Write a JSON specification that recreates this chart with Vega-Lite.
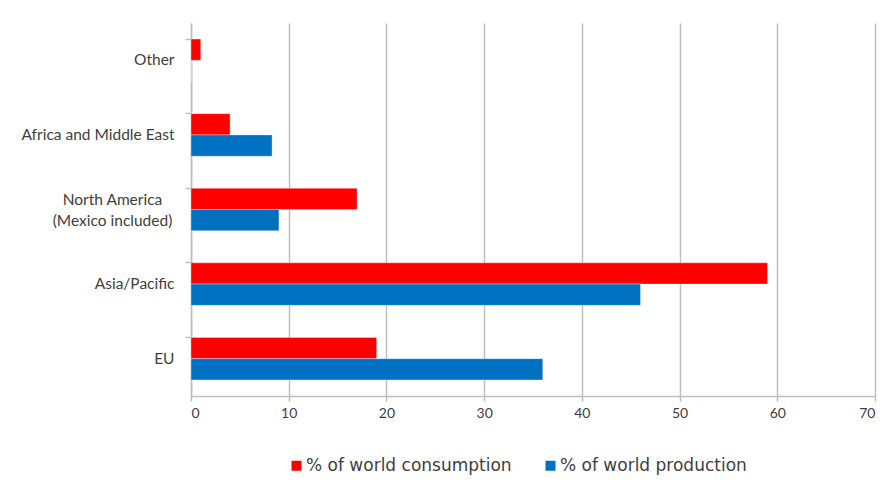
{
  "$schema": "https://vega.github.io/schema/vega-lite/v6.json",
  "width": 684,
  "height": 373,
  "autosize": {"type": "none"},
  "padding": {"left": 191, "top": 23, "right": 13, "bottom": 87},
  "background": "white",
  "config": {
    "view": {"stroke": null},
    "font": "Lato",
    "axis": {"labelFont": "Lato", "labelColor": "#404040", "domainColor": "#BFBFBF", "tickColor": "#BFBFBF", "gridColor": "#BFBFBF"},
    "legend": {"labelFont": "DejaVu Sans"}
  },
  "data": {
    "values": [
      {"region": "Other", "series": "% of world consumption", "value": 1},
      {"region": "Other", "series": "% of world production", "value": 0},
      {"region": "Africa and Middle East", "series": "% of world consumption", "value": 4},
      {"region": "Africa and Middle East", "series": "% of world production", "value": 8.3},
      {"region": "North America|(Mexico included)", "series": "% of world consumption", "value": 17},
      {"region": "North America|(Mexico included)", "series": "% of world production", "value": 9},
      {"region": "Asia/Pacific", "series": "% of world consumption", "value": 59},
      {"region": "Asia/Pacific", "series": "% of world production", "value": 46},
      {"region": "EU", "series": "% of world consumption", "value": 19},
      {"region": "EU", "series": "% of world production", "value": 36}
    ]
  },
  "mark": {"type": "bar", "stroke": "white", "strokeOpacity": 0.35, "strokeWidth": 1},
  "encoding": {
    "y": {
      "field": "region",
      "type": "nominal",
      "sort": ["Other", "Africa and Middle East", "North America|(Mexico included)", "Asia/Pacific", "EU"],
      "scale": {"paddingInner": 0.43, "paddingOuter": 0.215},
      "axis": {
        "title": null,
        "labelExpr": "split(datum.label, '|')",
        "labelFontSize": 15.5,
        "labelLineHeight": 21,
        "labelLimit": 0,
        "labelPadding": {"condition": {"test": "indexof(datum.value, '|') >= 0", "value": 73}, "value": 11},
        "labelAlign": {"condition": {"test": "indexof(datum.value, '|') >= 0", "value": "center"}, "value": "right"},
        "labelOffset": {"condition": {"test": "indexof(datum.value, '|') >= 0", "value": -10}, "value": 0},
        "tickSize": 6,
        "bandPosition": 0,
        "domainWidth": 1.5,
        "tickWidth": 1.5,
        "grid": false
      }
    },
    "yOffset": {
      "field": "series",
      "type": "nominal",
      "sort": ["% of world consumption", "% of world production"]
    },
    "x": {
      "field": "value",
      "type": "quantitative",
      "scale": {"domain": [0, 70]},
      "axis": {
        "title": null,
        "values": [0, 10, 20, 30, 40, 50, 60, 70],
        "labelFontSize": 14,
        "labelPadding": 5,
        "tickSize": 5,
        "grid": true,
        "gridWidth": 1.5,
        "domainWidth": 1.5,
        "tickWidth": 1.5
      }
    },
    "color": {
      "field": "series",
      "type": "nominal",
      "scale": {"domain": ["% of world consumption", "% of world production"], "range": ["#FF0000", "#0070C0"]},
      "legend": {
        "title": null,
        "orient": "none",
        "direction": "horizontal",
        "legendX": 97,
        "legendY": 434,
        "symbolType": "square",
        "symbolSize": 100,
        "symbolStrokeWidth": 0,
        "labelFontSize": 17,
        "labelColor": "#404040",
        "labelLimit": 0,
        "columnPadding": 30,
        "labelOffset": 1
      }
    }
  }
}
